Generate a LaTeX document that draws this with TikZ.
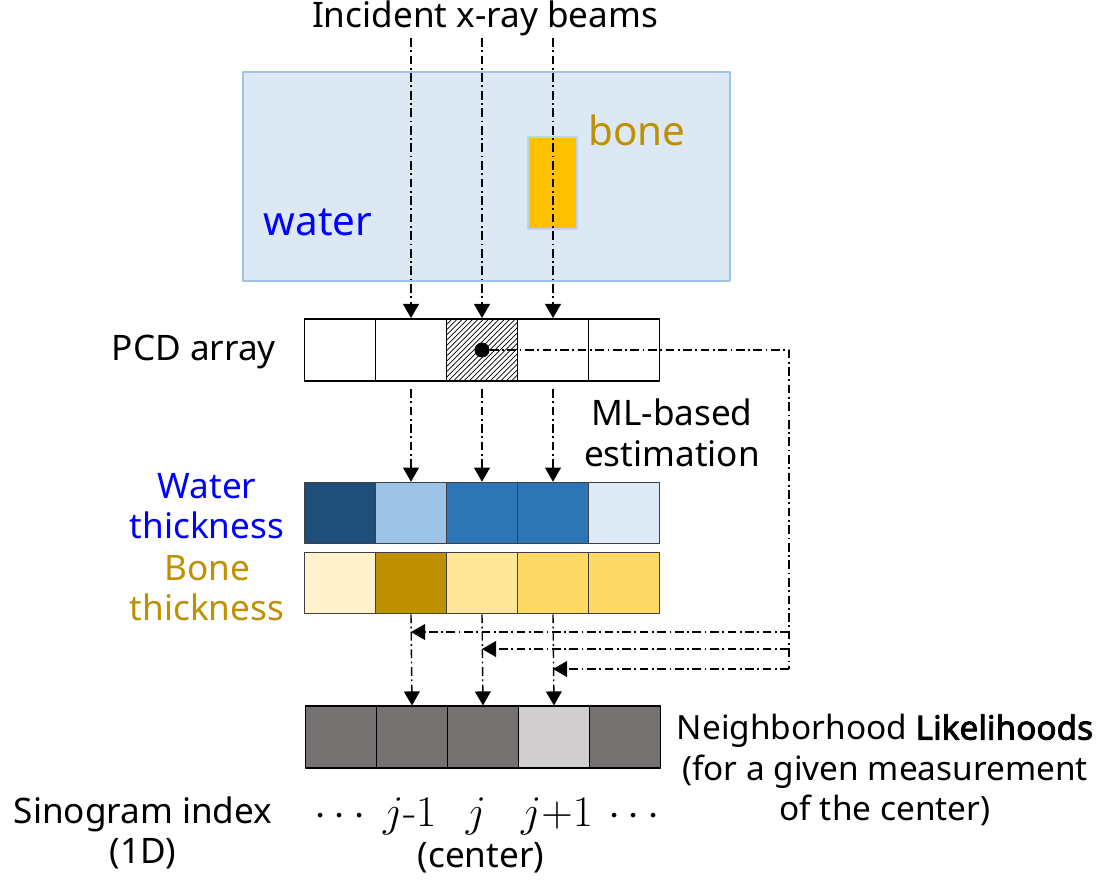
\documentclass[tikz,border=0pt]{standalone}
\usepackage{fontspec}
\setmainfont{Noto Sans}[BoldFont={Noto Sans},BoldFeatures={FakeBold=2.5}]
\newfontfamily\lmfont{Latin Modern Roman}
\usepackage{xcolor}
\usetikzlibrary{arrows.meta,patterns}

\definecolor{waterbg}{HTML}{DDE8F5}
\definecolor{waterline}{HTML}{9DC3E6}
\definecolor{watertext}{HTML}{0000FF}
\definecolor{bonefill}{HTML}{FFC000}
\definecolor{bonetext}{HTML}{BF9000}
\definecolor{wA}{HTML}{1F4E79}
\definecolor{wB}{HTML}{9DC3E6}
\definecolor{wC}{HTML}{2E75B6}
\definecolor{wD}{HTML}{DEEBF7}
\definecolor{bA}{HTML}{FFF2CC}
\definecolor{bB}{HTML}{BF9000}
\definecolor{bC}{HTML}{FFE699}
\definecolor{bD}{HTML}{FFD966}
\definecolor{likeDark}{HTML}{767171}
\definecolor{likeLight}{HTML}{D0CECE}

\begin{document}
\begin{tikzpicture}[x=0.02cm,y=-0.02cm,>={Triangle[width=9pt,length=8pt]},line join=round,
  cell/.style={draw,line width=1.1pt,minimum width=1.42cm,minimum height=1.24cm,inner sep=0pt},
  thick cell/.style={cell,draw=black!75,line width=0.9pt,minimum height=1.22cm},
  like cell/.style={cell,line width=0.6pt,fill=likeDark},
  beam/.style={line width=0.8pt,dash pattern=on 5pt off 2pt on 1pt off 2pt},
  lbl/.style={font=\fontsize{20}{23}\selectfont,align=center},
  big/.style={font=\fontsize{23}{26}\selectfont},
  idx/.style={font=\fontsize{25}{28}\selectfont\lmfont,anchor=base}]
  \useasboundingbox (0,0) rectangle (1099,887);
  % phantom
  \draw[waterline,fill=waterbg,line width=1.2pt] (243,72) rectangle (730,281);
  \draw[waterline!70,fill=bonefill,line width=1pt] (528,137) rectangle (577,229);
  \node[big,text=watertext] (water) at (318,222) {water};
  \node[big,text=bonetext] (bone) at (637,130) {bone};
  \node[lbl] (title) at (485,18) {Incident x-ray beams};
  % PCD array
  \node[cell] (p1) at (340,350) {};
  \node[cell] (p2) at (411,350) {};
  \node[cell,pattern=north east lines] (p3) at (482,350) {};
  \node[cell] (p4) at (553,350) {};
  \node[cell] (p5) at (624,350) {};
  \node[circle,fill,inner sep=0pt,minimum size=0.3cm] (dot) at (p3) {};
  \node[lbl,anchor=east] (pcd) at (282,352) {PCD array};
  % thickness maps
  \node[thick cell,fill=wA] (w1) at (340,513) {};
  \node[thick cell,fill=wB] (w2) at (411,513) {};
  \node[thick cell,fill=wC] (w3) at (482,513) {};
  \node[thick cell,fill=wC] (w4) at (553,513) {};
  \node[thick cell,fill=wD] (w5) at (624,513) {};
  \node[thick cell,fill=bA] (b1) at (340,583) {};
  \node[thick cell,fill=bB] (b2) at (411,583) {};
  \node[thick cell,fill=bC] (b3) at (482,583) {};
  \node[thick cell,fill=bD] (b4) at (553,583) {};
  \node[thick cell,fill=bD] (b5) at (624,583) {};
  \node[lbl,text=watertext] (wt) at (207,506) {Water\\thickness};
  \node[lbl,text=bonetext] (bt) at (207,588) {Bone\\thickness};
  \node[lbl] (ml) at (672,433) {ML-based\\estimation};
  % likelihoods
  \node[like cell] (l1) at (341,737) {};
  \node[like cell] (l2) at (412,737) {};
  \node[like cell] (l3) at (483,737) {};
  \node[like cell,fill=likeLight] (l4) at (554,737) {};
  \node[like cell] (l5) at (625,737) {};
  \node[lbl,font=\fontsize{19}{23}\selectfont] (nl) at (885,770) {Neighborhood \textbf{Likelihoods}\\(for a given measurement\\of the center)};
  \node[lbl] (si) at (143,833) {Sinogram index\\(1D)};
  \node[idx] (d1) at (340,826) {$\cdots$};
  \node[idx] (j1) at (410,826) {$j$-1};
  \node[idx] (j0) at (476,826) {$j$};
  \node[idx] (j2) at (557,826) {$j{+}1$};
  \node[idx] (d2) at (634,826) {$\cdots$};
  \node[lbl] (ctr) at (481,858) {(center)};
  % beams
  \coordinate (s2) at (411,38);
  \coordinate (s3) at (482,38);
  \coordinate (s4) at (553,38);
  \draw[beam,->] (s2) -- (p2.north);
  \draw[beam,->] (s3) -- (p3.north);
  \draw[beam,->] (s4) -- (p4.north);
  \draw[beam,->,shorten <=4pt] (p2.south) -- (w2.north);
  \draw[beam,->,shorten <=4pt] (p3.south) -- (w3.north);
  \draw[beam,->,shorten <=4pt] (p4.south) -- (w4.north);
  \draw[beam,->] (b2.south) -- (l2.north);
  \draw[beam,->] (b3.south) -- (l3.north);
  \draw[beam,->] (b4.south) -- (l4.north);
  % feedback of the center measurement
  \coordinate (R0) at (789,350);
  \coordinate (R1) at (789,632);
  \coordinate (R2) at (789,649);
  \coordinate (R3) at (789,669);
  \draw[beam] (dot) -- (R0) -- (R3);
  \draw[beam,->] (R1) -- (b2 |- R1);
  \draw[beam,->] (R2) -- (b3 |- R2);
  \draw[beam,->] (R3) -- (b4 |- R3);
\end{tikzpicture}
\end{document}
